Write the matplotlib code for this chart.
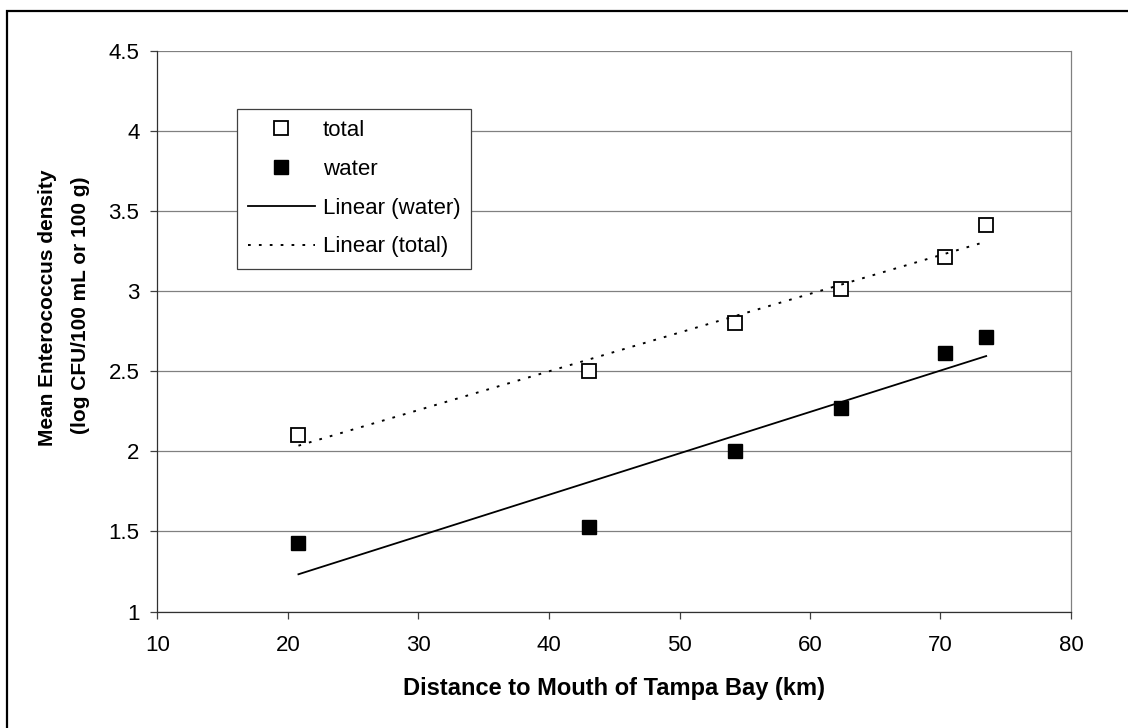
import numpy as np
import matplotlib.pyplot as plt
from matplotlib.patches import Rectangle
from matplotlib.ticker import FuncFormatter

plt.rcParams['font.family'] = ['Liberation Sans', 'DejaVu Sans']

# distance to mouth of Tampa Bay (km)
distance = [20.8, 43.1, 54.25, 62.4, 70.35, 73.5]
# mean Enterococcus density (log CFU/100 mL or 100 g)
total = [2.1, 2.5, 2.8, 3.01, 3.21, 3.41]
water = [1.43, 1.53, 2.0, 2.27, 2.61, 2.71]

x_ticks = [10, 20, 30, 40, 50, 60, 70, 80]
y_ticks = [1, 1.5, 2, 2.5, 3, 3.5, 4, 4.5]

W, H = 1128, 728
fig = plt.figure(figsize=(W / 100, H / 100), dpi=100)
ax = fig.add_axes([157.5 / W, 1 - 611.5 / H, (1071 - 157.5) / W, (611.5 - 50.5) / H])

# outer chart frame (only top and left edges visible)
fig.patches.append(Rectangle((7 / W, -0.1), 1.2, 1 - 11 / H + 0.1, transform=fig.transFigure,
                             fill=False, edgecolor='black', linewidth=1.6, clip_on=False))

# linear trend lines
xs = np.array([min(distance), max(distance)])
fit_w = np.polyfit(distance, water, 1)
fit_t = np.polyfit(distance, total, 1)

ax.plot(distance, total, 's', markersize=10, markerfacecolor='white', markeredgecolor='black',
        markeredgewidth=1.3, linestyle='none', label='total', zorder=3)
ax.plot(distance, water, 's', markersize=10, color='black', linestyle='none', label='water', zorder=3)
ax.plot(xs, np.polyval(fit_w, xs), color='black', linewidth=1.3, label='Linear (water)', zorder=4)
ax.plot(xs, np.polyval(fit_t, xs), color='black', linewidth=1.4, linestyle=(0, (1.4, 4.2)),
        label='Linear (total)', zorder=4)

ax.set_xlim(10, 80)
ax.set_ylim(1, 4.5)
ax.set_xticks(x_ticks)
ax.set_yticks(y_ticks)
ax.yaxis.set_major_formatter(FuncFormatter(lambda v, p: '%g' % v))
ax.grid(axis='y', color='#808080', linewidth=0.9)
ax.set_axisbelow(True)

ax.spines['top'].set_visible(False)
ax.spines['right'].set_color('#808080')
ax.spines['left'].set_color('#303030')
ax.spines['bottom'].set_color('#303030')
for s in ['left', 'right', 'bottom']:
    ax.spines[s].set_linewidth(0.9)

ax.tick_params(axis='both', direction='out', length=5, width=0.9, color='#404040',
               labelsize=16, labelcolor='black')
ax.tick_params(axis='y', pad=8)
ax.tick_params(axis='x', pad=12)

fig.text(614 / W, 1 - 688 / H, 'Distance to Mouth of Tampa Bay (km)', ha='center', va='center',
         fontsize=17, fontweight='bold')
fig.text(48 / W, 1 - 308 / H, 'Mean Enterococcus density', ha='center', va='center',
         rotation=90, fontsize=15, fontweight='bold')
fig.text(81 / W, 1 - 305 / H, '(log CFU/100 mL or 100 g)', ha='center', va='center',
         rotation=90, fontsize=15, fontweight='bold')

leg = ax.legend(loc='upper left', bbox_to_anchor=(237 / W, 1 - 109 / H), bbox_transform=fig.transFigure,
                fontsize=16, frameon=True, fancybox=False, edgecolor='#404040', framealpha=1,
                handlelength=3.0, handletextpad=0.35, labelspacing=0.8, borderpad=0.5,
                borderaxespad=0)
leg.get_frame().set_linewidth(0.9)

fig.savefig('out.png', dpi=100)
